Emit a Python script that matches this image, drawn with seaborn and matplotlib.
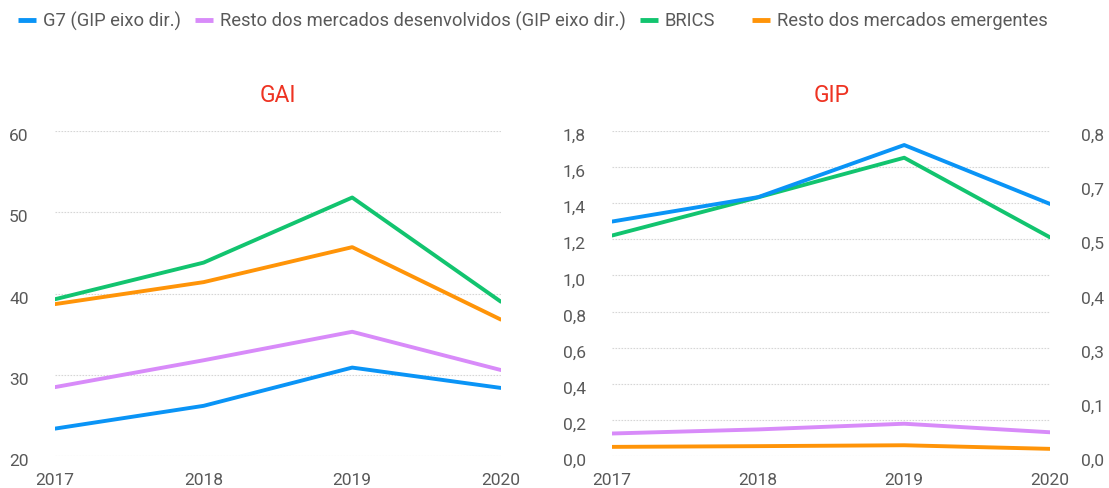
import numpy as np
import pandas as pd
import matplotlib
matplotlib.use("Agg")
import matplotlib.pyplot as plt
import matplotlib.transforms as mtransforms
import seaborn as sns
from matplotlib.ticker import FuncFormatter, FixedLocator
from matplotlib.lines import Line2D

years = [2017, 2018, 2019, 2020]
series_names = ["G7 (GIP eixo dir.)",
                "Resto dos mercados desenvolvidos (GIP eixo dir.)",
                "BRICS",
                "Resto dos mercados emergentes"]
colors = ["#0A94F6", "#D88BF9", "#12C46F", "#FF9408"]

# GAI panel
gai_g7 = [23.4, 26.2, 30.9, 28.4]
gai_dev = [28.5, 31.8, 35.3, 30.6]
gai_brics = [39.3, 43.8, 51.8, 39.0]
gai_em = [38.7, 41.4, 45.7, 36.8]

# GIP panel (G7 and developed on right axis)
gip_g7 = [0.577, 0.637, 0.765, 0.620]
gip_dev = [0.056, 0.066, 0.080, 0.059]
gip_brics = [1.221, 1.432, 1.651, 1.210]
gip_em = [0.052, 0.056, 0.061, 0.041]

gai_ticks = [20, 30, 40, 50, 60]
gip_left_ticks = [0.0, 0.2, 0.4, 0.6, 0.8, 1.0, 1.2, 1.4, 1.6, 1.8]
gip_right_ticks = list(np.linspace(0, 0.8, 7))

sns.set_theme(style="white")
plt.rcParams['font.family'] = ['Roboto', 'DejaVu Sans']

TXT = "#595959"
GRID = "#D6D6D6"
TITLE = "#EE3322"
LW = 2.8

fig = plt.figure(figsize=(11.09, 4.88), dpi=100)
ax1 = fig.add_axes([0.0496, 0.065, 0.402, 0.667])
ax2 = fig.add_axes([0.552, 0.065, 0.395, 0.667])
ax3 = ax2.twinx()

def comma(v, pos):
    return f"{v:.1f}".replace(".", ",")

# Left panel
for vals, c in zip([gai_g7, gai_dev, gai_brics, gai_em], colors):
    sns.lineplot(x=years, y=vals, ax=ax1, color=c, linewidth=LW)
ax1.set_ylim(20, 60)
ax1.yaxis.set_major_locator(FixedLocator(gai_ticks))
ax1.set_title("GAI", color=TITLE, fontsize=16.5, pad=21)

# Right panel
sns.lineplot(x=years, y=gip_brics, ax=ax2, color=colors[2], linewidth=LW)
sns.lineplot(x=years, y=gip_em, ax=ax2, color=colors[3], linewidth=LW)
sns.lineplot(x=years, y=gip_g7, ax=ax3, color=colors[0], linewidth=LW)
sns.lineplot(x=years, y=gip_dev, ax=ax3, color=colors[1], linewidth=LW)
ax2.set_ylim(0, 1.8)
ax2.yaxis.set_major_locator(FixedLocator(gip_left_ticks))
ax2.yaxis.set_major_formatter(FuncFormatter(comma))
ax3.set_ylim(0, 0.8)
ax3.yaxis.set_major_locator(FixedLocator(gip_right_ticks))
ax3.yaxis.set_major_formatter(FuncFormatter(comma))
ax2.set_title("GIP", color=TITLE, fontsize=16.5, pad=21)

for ax in (ax1, ax2, ax3):
    ax.set_xlim(2017, 2020)
    ax.set_xticks(years)
    ax.set_xticklabels([str(y) for y in years])
    for s in ax.spines.values():
        s.set_visible(False)
    ax.tick_params(axis="both", length=0, labelsize=12.5, labelcolor=TXT)
    ax.set_xlabel("")
    ax.set_ylabel("")
    ax.patch.set_alpha(0)
    ax.grid(False)

for ax in (ax1, ax2):
    ax.yaxis.grid(True, color=GRID, linestyle=(0, (1.5, 1.2)), linewidth=0.8)
    ax.set_axisbelow(True)
    ax.tick_params(axis="x", pad=12)
ax1.tick_params(axis="y", pad=19)
ax2.tick_params(axis="y", pad=19)
ax3.tick_params(axis="y", pad=22)
ax3.tick_params(axis="x", labelbottom=False)

# nudge y tick labels slightly below their gridlines, as in the reference
shift = mtransforms.ScaledTranslation(0, -4 / 100, fig.dpi_scale_trans)
for ax in (ax1, ax2, ax3):
    for lab in ax.get_yticklabels():
        lab.set_transform(lab.get_transform() + shift)

# legend entries placed individually
legend_x_px = [18, 195, 640, 752]
for name, c, xp in zip(series_names, colors, legend_x_px):
    h = Line2D([0], [0], color=c, linewidth=3.5, solid_capstyle="butt")
    fig.legend([h], [name], loc="center left",
               bbox_to_anchor=(xp / 1109, 1 - 21 / 488),
               frameon=False, handlelength=1.0, handletextpad=0.35,
               fontsize=13.2, labelcolor=TXT, borderaxespad=0, borderpad=0)

fig.savefig("out.png", dpi=100)
